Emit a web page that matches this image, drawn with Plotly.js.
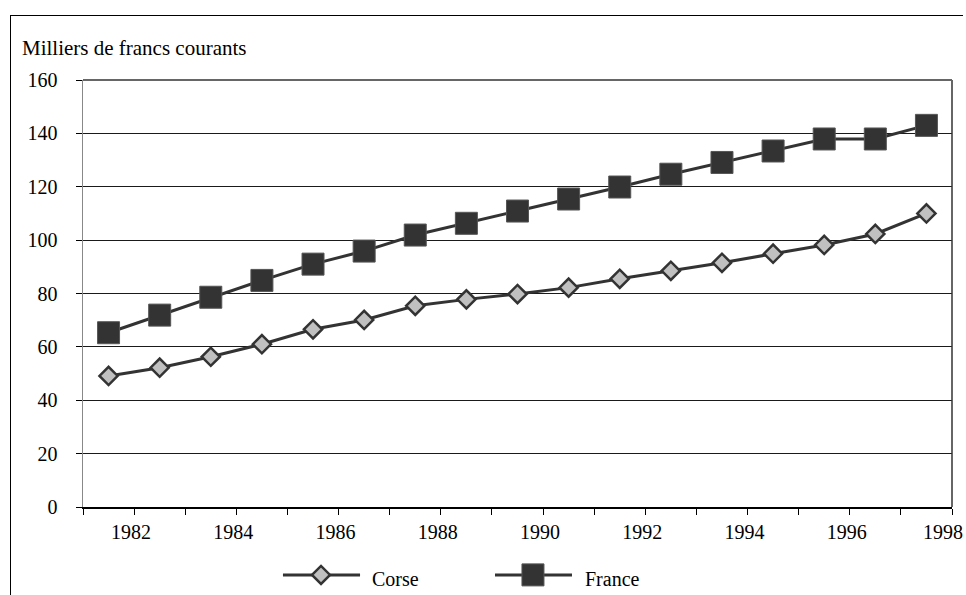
<!DOCTYPE html>
<html>
<head>
<meta charset="utf-8">
<script src="https://cdn.plot.ly/plotly-3.0.1.min.js"></script>
<style>
  html, body { margin: 0; padding: 0; background: #fff; }
  #wrap { position: relative; width: 966px; height: 595px; overflow: hidden; }
  #frame { position: absolute; left: 10px; top: 15px; width: 952px; height: 600px;
           border-top: 1.5px solid #000; border-left: 1.5px solid #000; pointer-events: none; z-index: 5; }
  #chart { position: absolute; left: 0; top: 0; width: 966px; height: 595px; }
</style>
</head>
<body>
<div id="wrap">
  <div id="chart"></div>
  <div id="frame"></div>
</div>
<script>
// Data
const years = [1981, 1982, 1983, 1984, 1985, 1986, 1987, 1988, 1989, 1990, 1991, 1992, 1993, 1994, 1995, 1996, 1997];
const corse = [49.1, 52.2, 56.3, 61.0, 66.6, 70.1, 75.4, 77.8, 79.8, 82.2, 85.5, 88.5, 91.5, 94.9, 98.2, 102.3, 110.0];
const france = [65.3, 71.9, 78.6, 84.9, 91.0, 95.9, 101.9, 106.3, 110.9, 115.4, 119.9, 124.7, 129.1, 133.4, 137.9, 137.9, 143.0];
const tickYears = [1981, 1982, 1983, 1984, 1985, 1986, 1987, 1988, 1989, 1990, 1991, 1992, 1993, 1994, 1995, 1996, 1997, 1998];
const tickLabels = ['', '1982', '', '1984', '', '1986', '', '1988', '', '1990', '', '1992', '', '1994', '', '1996', '', '1998'];
const seriesNames = ['Corse', 'France'];
const yTitle = 'Milliers de francs courants';

// each year's point sits in the middle of its year interval
const xPos = years.map(y => y + 0.5);

// the last label is nudged inward (as in the reference), so it is drawn as an annotation
const lastIdx = tickLabels.length - 1;
const axisText = tickLabels.map((t, i) => (i === lastIdx ? '' : t));

function mkFont(sz) { return { family: 'Liberation Serif', size: sz || 20, color: '#000000' }; }
const LINE = '#333333';

const traces = [
  {
    x: xPos, y: corse, name: seriesNames[0], type: 'scatter', mode: 'lines+markers',
    line: { color: LINE, width: 3 },
    marker: { symbol: 'diamond', size: 14, color: '#c0c0c0', line: { color: LINE, width: 2.5 } }
  },
  {
    x: xPos, y: france, name: seriesNames[1], type: 'scatter', mode: 'lines+markers',
    line: { color: LINE, width: 3 },
    marker: { symbol: 'square', size: 22, color: LINE, line: { color: '#555555', width: 1 } }
  }
];

// Custom legend (long sample lines as in the reference)
const legY = -0.159, legTextY = -0.168;
const legendShapes = [
  { type: 'line', xref: 'paper', yref: 'paper', x0: 0.2301, x1: 0.3188, y0: legY, y1: legY, line: { color: LINE, width: 3 } },
  { type: 'path', xref: 'paper', yref: 'paper', xsizemode: 'pixel', ysizemode: 'pixel', xanchor: 0.2739, yanchor: legY,
    path: 'M -9 0 L 0 9 L 9 0 L 0 -9 Z', fillcolor: '#c0c0c0', line: { color: LINE, width: 2.5 } },
  { type: 'line', xref: 'paper', yref: 'paper', x0: 0.4741, x1: 0.5627, y0: legY, y1: legY, line: { color: LINE, width: 3 } },
  { type: 'path', xref: 'paper', yref: 'paper', xsizemode: 'pixel', ysizemode: 'pixel', xanchor: 0.5178, yanchor: legY,
    path: 'M -11 -11 L 11 -11 L 11 11 L -11 11 Z', fillcolor: LINE, line: { color: '#555555', width: 1 } }
];

const layout = {
  width: 966, height: 595,
  margin: { l: 83, r: 14, t: 80, b: 88, autoexpand: false },
  paper_bgcolor: '#fff', plot_bgcolor: '#fff',
  font: mkFont(),
  showlegend: false,
  xaxis: {
    range: [1981, 1998], tickmode: 'array', tickvals: tickYears, ticktext: axisText,
    ticks: 'outside', ticklen: 6, tickwidth: 1, tickcolor: '#000',
    showline: true, linecolor: '#000', linewidth: 1.5, ticklabelshift: -3,
    showgrid: false, zeroline: false, tickfont: mkFont(), fixedrange: true
  },
  yaxis: {
    range: [0, 160], dtick: 20, tick0: 0,
    ticks: 'outside', ticklen: 6, tickwidth: 1, tickcolor: '#000',
    showline: true, linecolor: '#888', linewidth: 1.5,
    showgrid: true, gridcolor: '#1a1a1a', gridwidth: 1, zeroline: false,
    tickfont: mkFont(), ticklabelstandoff: 14, fixedrange: true
  },
  shapes: [
    { type: 'line', xref: 'paper', yref: 'paper', x0: 1, x1: 1, y0: 0, y1: 1, line: { color: '#333', width: 1.5 } },
    { type: 'line', xref: 'paper', yref: 'paper', x0: 0, x1: 1, y0: 1, y1: 1, line: { color: '#666', width: 2 } }
  ].concat(legendShapes),
  annotations: [
    { text: yTitle, xref: 'paper', yref: 'paper', x: -0.0725, y: 1.075, xanchor: 'left', yanchor: 'middle',
      showarrow: false, font: mkFont(21) },
    { text: tickLabels[lastIdx], xref: 'x', yref: 'paper', x: tickYears[lastIdx], y: 0, xanchor: 'center', yanchor: 'top',
      xshift: -9, yshift: -12, showarrow: false, font: mkFont() },
    { text: seriesNames[0], xref: 'paper', yref: 'paper', x: 0.3303, y: legTextY, xanchor: 'left', yanchor: 'middle',
      showarrow: false, font: mkFont() },
    { text: seriesNames[1], xref: 'paper', yref: 'paper', x: 0.5754, y: legTextY, xanchor: 'left', yanchor: 'middle',
      showarrow: false, font: mkFont() }
  ]
};

Plotly.newPlot('chart', traces, layout, { staticPlot: true, displayModeBar: false });
</script>
</body>
</html>
